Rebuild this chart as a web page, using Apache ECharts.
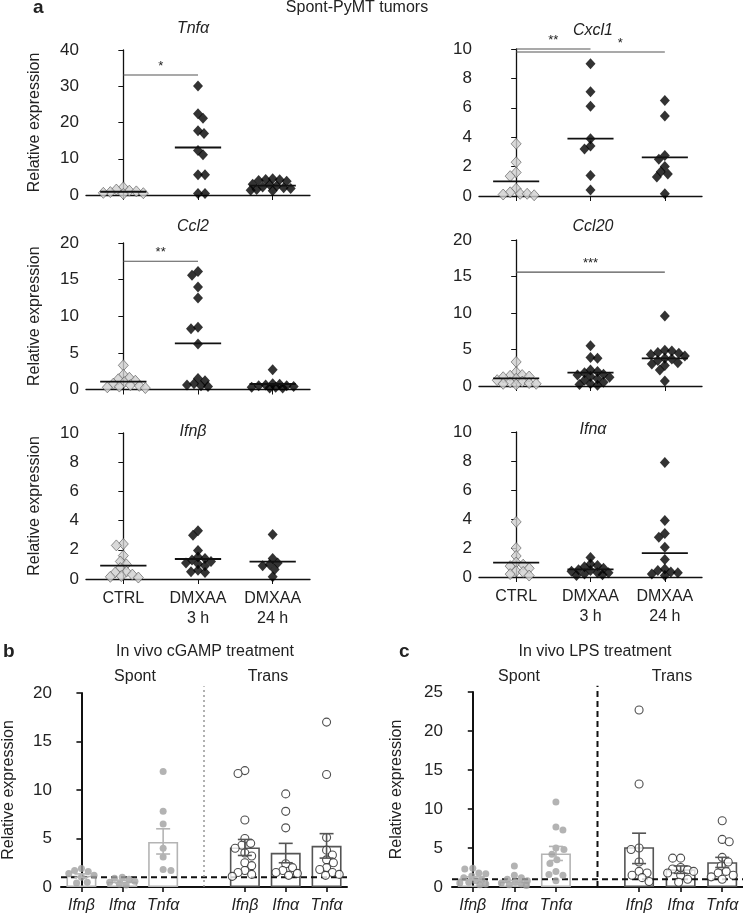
<!DOCTYPE html>
<html><head><meta charset="utf-8">
<script src="https://cdn.jsdelivr.net/npm/echarts@6/dist/echarts.min.js"></script>
<style>html,body{margin:0;padding:0;background:#fff}#c{width:743px;height:916px}</style>
</head><body><div id="c"></div>
<script>
// ---------- Panel a data ----------
const catsA = ['CTRL', 'DMXAA\n3 h', 'DMXAA\n24 h'];
const tnfCtrl = [2.1, 1.5, 1.2, 1.0, 0.8, 0.6, 0.5, 0.3];
const tnf3h = [30.1, 22.4, 21.2, 17.7, 17.0, 12.3, 11.1, 5.6, 5.6, 0.4, 0.4];
const tnf24h = [4.5, 4.3, 4.2, 4.0, 3.8, 3.0, 2.8, 2.5, 2.2, 2.0, 1.8, 1.5, 1.3, 1.2];
const tnfMeans = [0.9, 13.1, 2.6];
const cxclCtrl = [3.55, 2.3, 1.6, 1.35, 0.5, 0.25, 0.15, 0.15, 0.1, 0.05];
const cxcl3h = [9.0, 7.1, 6.1, 3.9, 3.4, 3.2, 1.4, 0.4];
const cxcl24h = [6.5, 5.45, 2.75, 2.5, 2.0, 1.65, 1.5, 1.3, 0.15];
const cxclMeans = [1.0, 3.9, 2.63];
const ccl2Ctrl = [3.3, 2.0, 1.6, 1.4, 1.2, 1.0, 0.8, 0.6, 0.5, 0.4, 0.3, 0.2];
const ccl2_3h = [16.1, 15.6, 14.0, 12.5, 8.5, 8.3, 6.2, 1.5, 1.2, 0.8, 0.6, 0.5, 0.4];
const ccl2_24h = [2.7, 0.8, 0.7, 0.6, 0.5, 0.5, 0.4, 0.3, 0.3, 0.2, 0.2];
const ccl2Means = [1.07, 6.3, 0.75];
const ccl20Ctrl = [3.3, 1.9, 1.5, 1.4, 1.3, 1.2, 1.0, 0.8, 0.6, 0.5, 0.4, 0.3, 0.3, 0.2];
const ccl20_3h = [5.5, 3.9, 3.8, 2.2, 2.0, 1.8, 1.6, 1.5, 1.3, 1.2, 1.0, 0.8, 0.5, 0.3, 0.2, 0.1];
const ccl20_24h = [9.6, 4.9, 4.8, 4.6, 4.5, 4.3, 4.1, 3.8, 3.7, 3.5, 3.2, 3.0, 2.8, 2.2, 0.7];
const ccl20Means = [1.05, 1.82, 3.79];
const ifnbCtrl = [2.4, 2.3, 1.6, 1.2, 1.0, 0.75, 0.5, 0.45, 0.3, 0.2, 0.15, 0.1];
const ifnb3h = [3.3, 3.0, 1.95, 1.5, 1.4, 1.3, 1.2, 1.1, 1.05, 0.9, 0.6, 0.5, 0.45];
const ifnb24h = [3.05, 1.4, 1.1, 1.0, 0.9, 0.65, 0.15];
const ifnbMeans = [0.91, 1.37, 1.19];
const ifnaCtrl = [3.8, 2.0, 1.45, 1.0, 0.85, 0.75, 0.6, 0.4, 0.35, 0.2, 0.1];
const ifna3h = [1.35, 0.9, 0.8, 0.7, 0.6, 0.5, 0.45, 0.4, 0.3, 0.3, 0.2, 0.15, 0.1];
const ifna24h = [7.9, 3.9, 3.0, 2.75, 2.05, 1.2, 0.55, 0.45, 0.35, 0.3, 0.2, 0.1];
const ifnaMeans = [0.99, 0.53, 1.65];
// significance: [fromIdx, toIdx, y, labelAtIdx, label]
const tnfSig = [[0, 1, 33.1, 0.5, '*']];
const cxclSig = [[0, 1, 10.0, 0.5, '**'], [0, 2, 9.8, 1.4, '*']];
const ccl2Sig = [[0, 1, 17.5, 0.5, '**']];
const ccl20Sig = [[0, 2, 15.6, 1.0, '***']];

// ---------- Panel b / c data ----------
const catsBC = ['Ifnβ', 'Ifnα', 'Tnfα', '', 'Ifnβ', 'Ifnα', 'Tnfα'];
const bBars = [1.16, 0.55, 4.65, null, 4.07, 3.52, 4.24];
const bErrLo = [1.0, 0.4, 3.4, null, 3.25, 2.5, 2.98];
const bErrHi = [1.35, 0.7, 6.0, null, 4.9, 4.5, 5.5];
const bSpontIfnb = [1.9, 1.7, 1.6, 1.4, 1.2, 1.0, 0.5, 0.4];
const bSpontIfna = [1.0, 0.9, 0.8, 0.6, 0.5, 0.3, 0.2];
const bSpontTnfa = [11.9, 7.8, 6.5, 4.0, 3.1, 1.8, 1.7];
const bTransIfnb = [12.0, 11.7, 6.9, 5.0, 4.5, 4.3, 4.0, 3.5, 3.2, 2.5, 2.2, 1.7, 1.5, 1.3, 1.1];
const bTransIfna = [9.6, 7.8, 6.1, 2.4, 2.0, 1.7, 1.5, 1.4, 1.2];
const bTransTnfa = [17.0, 11.6, 5.1, 3.8, 3.3, 2.8, 2.5, 2.0, 1.8, 1.5, 1.3, 1.2];
const cBars = [1.1, 0.68, 4.3, null, 5.1, 2.27, 3.17];
const cErrLo = [0.9, 0.5, 3.4, null, 3.0, 1.75, 2.5];
const cErrHi = [1.3, 0.85, 5.2, null, 6.9, 2.7, 3.8];
const cSpontIfnb = [2.4, 2.3, 1.8, 1.7, 1.4, 1.2, 1.0, 0.8, 0.6, 0.5, 0.4, 0.3];
const cSpontIfna = [2.7, 1.5, 1.2, 1.0, 0.8, 0.6, 0.5, 0.4, 0.3, 0.2];
const cSpontTnfa = [10.9, 7.7, 7.3, 5.0, 4.8, 4.2, 3.5, 3.0, 2.0, 1.6, 1.5, 0.8];
const cTransIfnb = [22.7, 13.2, 5.0, 4.8, 3.2, 2.0, 1.8, 1.5, 1.2, 0.7];
const cTransIfna = [3.7, 3.7, 2.5, 2.3, 2.2, 2.0, 1.8, 1.5, 1.0, 0.6];
const cTransTnfa = [8.5, 6.1, 5.8, 3.8, 3.2, 2.7, 2.0, 1.8, 1.5, 1.3, 1.0];
const refLevel = 1;

// ---------- helpers ----------
const FONT = 'Liberation Sans, Arial, sans-serif';
function swarm(vals, yMax, hPx, bandPx, minD, maxOff) {
  const ppu = hPx / yMax;
  const order = vals.map((v, i) => i).sort((a, b) => vals[b] - vals[a]);
  const placed = [], offs = new Array(vals.length);
  const step = 1;
  order.forEach((i, n) => {
    const y = vals[i] * ppu;
    let best = null, fb = 0, fbOv = Infinity;
    for (let k = 0; k * step <= maxOff && best === null; k++) {
      const cands = k === 0 ? [0] : (n % 2 ? [-k * step, k * step] : [k * step, -k * step]);
      for (const dx of cands) {
        let worst = 0;
        for (const p of placed) {
          const d = Math.hypot(dx - p.x, y - p.y);
          if (d < minD) worst = Math.max(worst, minD - d);
        }
        if (worst === 0) { best = dx; break; }
        if (worst < fbOv - 0.01) { fbOv = worst; fb = dx; }
      }
    }
    if (best === null) best = fb;
    placed.push({ x: best, y });
    offs[i] = best / bandPx;
  });
  return offs;
}

const grids = [], xAxes = [], yAxes = [], series = [], graphics = [];
function addGrid(g, yCfg, cats, showCatLabels, italicCats, axisW) {
  const gi = grids.length;
  grids.push({ left: g.left, top: g.top, width: g.width, height: g.height, containLabel: false });
  const catAx = xAxes.length;
  xAxes.push({
    type: 'category', gridIndex: gi, data: cats, boundaryGap: true,
    axisLine: { show: true, lineStyle: { color: '#111', width: axisW } },
    axisTick: { show: true, alignWithLabel: true, length: 5, lineStyle: { color: '#111', width: axisW * 0.8 },
      interval: (idx, val) => val !== '' },
    axisLabel: { show: showCatLabels, fontFamily: FONT, fontSize: 16, color: '#222', lineHeight: 20,
      margin: italicCats ? 9 : 10, fontStyle: italicCats ? 'italic' : 'normal', interval: 0 },
    splitLine: { show: false }
  });
  const valAx = xAxes.length;
  xAxes.push({ type: 'value', gridIndex: gi, min: -0.5, max: cats.length - 0.5, show: false });
  const yAx = yAxes.length;
  yAxes.push(Object.assign({
    type: 'value', gridIndex: gi, min: 0,
    axisLine: { show: true, lineStyle: { color: '#111', width: axisW } },
    axisTick: { show: true, length: 5, lineStyle: { color: '#111', width: axisW * 0.8 } },
    axisLabel: { fontFamily: FONT, fontSize: 17, color: '#222', margin: 7 },
    splitLine: { show: false },
    nameTextStyle: { fontFamily: FONT, fontSize: 16, color: '#222' }
  }, yCfg));
  return { catAx, valAx, yAx };
}
function lineSeries(ax, data, render, z) {
  series.push({ type: 'custom', xAxisIndex: ax.valAx, yAxisIndex: ax.yAx, data, renderItem: render, z: z || 5, silent: true });
}

// ---------- Panel a ----------
const panelsA = [
  { title: 'Tnfα', groups: [tnfCtrl, tnf3h, tnf24h], means: tnfMeans, max: 40, interval: 10, sig: tnfSig, col: 0, row: 0 },
  { title: 'Cxcl1', groups: [cxclCtrl, cxcl3h, cxcl24h], means: cxclMeans, max: 10, interval: 2, sig: cxclSig, col: 1, row: 0 },
  { title: 'Ccl2', groups: [ccl2Ctrl, ccl2_3h, ccl2_24h], means: ccl2Means, max: 20, interval: 5, sig: ccl2Sig, col: 0, row: 1 },
  { title: 'Ccl20', groups: [ccl20Ctrl, ccl20_3h, ccl20_24h], means: ccl20Means, max: 20, interval: 5, sig: ccl20Sig, col: 1, row: 1 },
  { title: 'Ifnβ', groups: [ifnbCtrl, ifnb3h, ifnb24h], means: ifnbMeans, max: 10, interval: 2, sig: [], col: 0, row: 2 },
  { title: 'Ifnα', groups: [ifnaCtrl, ifna3h, ifna24h], means: ifnaMeans, max: 10, interval: 2, sig: [], col: 1, row: 2 }
];
const colLeft = [86, 479], colW = [224, 223];
const rowTop = [[50, 49], [243, 240], [433, 432]], rowBot = [[195, 196], [389.5, 386], [579, 577]];
const titleY = [[29, 31], [227, 227], [432, 430]], titleX = [193, 593];

panelsA.forEach(p => {
  const g = { left: colLeft[p.col], top: rowTop[p.row][p.col], width: colW[p.col], height: rowBot[p.row][p.col] - rowTop[p.row][p.col] };
  const ax = addGrid(g, {
    max: p.max, interval: p.interval,
    name: p.col === 0 ? 'Relative expression' : '', nameLocation: 'middle', nameGap: 43
  }, catsA, p.row === 2, false, 1.3);
  const band = g.width / 3;
  p.groups.forEach((vals, gi) => {
    const offs = swarm(vals, p.max, g.height, band, 6.5, 22);
    series.push({
      type: 'scatter', xAxisIndex: ax.valAx, yAxisIndex: ax.yAx, symbol: 'diamond', symbolSize: [10, 11], clip: false, z: 3,
      itemStyle: gi === 0 ? { color: '#cfcfcf', borderColor: '#555', borderWidth: 0.8 } : { color: '#000', borderColor: '#000', borderWidth: 0 },
      data: vals.map((v, i) => [gi + offs[i], v])
    });
  });
  lineSeries(ax, p.means.map((m, i) => [i, m]), (params, api) => {
    const a = api.coord([api.value(0) - 0.31, api.value(1)]), b = api.coord([api.value(0) + 0.31, api.value(1)]);
    return { type: 'line', shape: { x1: a[0], y1: a[1], x2: b[0], y2: b[1] }, style: { stroke: '#111', lineWidth: 1.8 } };
  }, 6);
  if (p.sig.length) {
    lineSeries(ax, p.sig.map(s => [s[0], s[1], s[2], s[3]]), (params, api) => {
      const a = api.coord([api.value(0), api.value(2)]), b = api.coord([api.value(1), api.value(2)]);
      const t = api.coord([api.value(3), api.value(2)]);
      return { type: 'group', children: [
        { type: 'line', shape: { x1: a[0], y1: a[1], x2: b[0], y2: b[1] }, style: { stroke: '#555', lineWidth: 1.1 } },
        { type: 'text', x: t[0], y: a[1] - 2, style: { text: p.sig[params.dataIndex][4], fontSize: 13, fontFamily: FONT, fill: '#222', align: 'center', verticalAlign: 'bottom' } }
      ] };
    }, 6);
  }
  graphics.push({ type: 'text', x: titleX[p.col], y: titleY[p.row][p.col], style: { text: p.title, font: 'italic 16px ' + FONT, fill: '#222', align: 'center', verticalAlign: 'middle' } });
});

// ---------- Panels b and c ----------
const panelsBC = [
  { g: { left: 53, top: 693, width: 294, height: 194 }, max: 20, bars: bBars, lo: bErrLo, hi: bErrHi,
    pts: [bSpontIfnb, bSpontIfna, bSpontTnfa, null, bTransIfnb, bTransIfna, bTransTnfa], sepTop: 20.7, sepDash: [2, 3], sepColor: '#888', sepW: 1.3, nameGap: 44 },
  { g: { left: 452, top: 692, width: 291, height: 195 }, max: 25, bars: cBars, lo: cErrLo, hi: cErrHi,
    pts: [cSpontIfnb, cSpontIfna, cSpontTnfa, null, cTransIfnb, cTransIfna, cTransTnfa], sepTop: 25.8, sepDash: [6, 4], sepColor: '#111', sepW: 2, nameGap: 47 }
];
panelsBC.forEach(p => {
  const ax = addGrid(p.g, { max: p.max, interval: 5, name: 'Relative expression', nameLocation: 'middle', nameGap: p.nameGap,
    axisLabel: { fontFamily: FONT, fontSize: 17, color: '#222', margin: 9 } }, catsBC, true, true, 2);
  const spontCol = '#b4b4b4', transCol = '#555';
  series.push({
    type: 'bar', xAxisIndex: ax.catAx, yAxisIndex: ax.yAx, barWidth: 30, z: 2,
    data: p.bars.map((v, i) => ({ value: v === null ? '-' : v, itemStyle: { color: 'rgba(255,255,255,0)', borderColor: i < 3 ? spontCol : transCol, borderWidth: 1.6 } }))
  });
  lineSeries(ax, [[refLevel]], (params, api) => {
    const a = api.coord([-0.5, api.value(0)]), b = api.coord([6.5, api.value(0)]);
    return { type: 'line', shape: { x1: a[0], y1: a[1], x2: b[0], y2: b[1] }, style: { stroke: '#111', lineWidth: 2, lineDash: [6, 4] } };
  }, 3);
  lineSeries(ax, [[3, p.sepTop]], (params, api) => {
    const a = api.coord([api.value(0), 0]), b = api.coord([api.value(0), api.value(1)]);
    return { type: 'line', shape: { x1: a[0], y1: a[1], x2: b[0], y2: b[1] }, style: { stroke: p.sepColor, lineWidth: p.sepW, lineDash: p.sepDash } };
  }, 3);
  const band = p.g.width / 7;
  p.pts.forEach((vals, ci) => {
    if (!vals) return;
    const spont = ci < 3;
    const offs = swarm(vals, p.max, p.g.height, band, 7.2, 13);
    series.push({
      type: 'scatter', xAxisIndex: ax.valAx, yAxisIndex: ax.yAx, symbol: 'circle', symbolSize: spont ? 7 : 8, clip: false, z: 4,
      itemStyle: spont ? { color: '#a0a0a0', borderColor: '#a0a0a0', borderWidth: 0 } : { color: '#fff', borderColor: '#222', borderWidth: 1.1 },
      data: vals.map((v, i) => [ci + offs[i], v])
    });
  });
  lineSeries(ax, p.lo.map((l, i) => [i, l, p.hi[i]]).filter(d => d[1] !== null), (params, api) => {
    const i = api.value(0);
    const a = api.coord([i, api.value(1)]), b = api.coord([i, api.value(2)]);
    const col = i < 3 ? '#b4b4b4' : '#555';
    const st = { stroke: col, lineWidth: 1.6 };
    return { type: 'group', children: [
      { type: 'line', shape: { x1: a[0], y1: a[1], x2: b[0], y2: b[1] }, style: st },
      { type: 'line', shape: { x1: a[0] - 7, y1: a[1], x2: a[0] + 7, y2: a[1] }, style: st },
      { type: 'line', shape: { x1: b[0] - 7, y1: b[1], x2: b[0] + 7, y2: b[1] }, style: st }
    ] };
  }, 5);
});

// ---------- texts ----------
const txt = (x, y, t, font, align) => graphics.push({ type: 'text', x, y, style: { text: t, font, fill: '#222', align: align || 'center', verticalAlign: 'middle' } });
txt(33, 8, 'a', 'bold 19px ' + FONT, 'left');
txt(357, 8, 'Spont-PyMT tumors', '16px ' + FONT);
txt(3, 652, 'b', 'bold 19px ' + FONT, 'left');
txt(205, 652, 'In vivo cGAMP treatment', '16px ' + FONT);
txt(135, 677, 'Spont', '16px ' + FONT);
txt(268, 677, 'Trans', '16px ' + FONT);
txt(399, 652, 'c', 'bold 19px ' + FONT, 'left');
txt(595, 652, 'In vivo LPS treatment', '16px ' + FONT);
txt(519, 677, 'Spont', '16px ' + FONT);
txt(672, 677, 'Trans', '16px ' + FONT);

const chart = echarts.init(document.getElementById('c'), null, { renderer: 'canvas' });
chart.setOption({
  animation: false, backgroundColor: '#fff',
  textStyle: { fontFamily: FONT },
  grid: grids, xAxis: xAxes, yAxis: yAxes, series, graphic: graphics
});
</script></body></html>
